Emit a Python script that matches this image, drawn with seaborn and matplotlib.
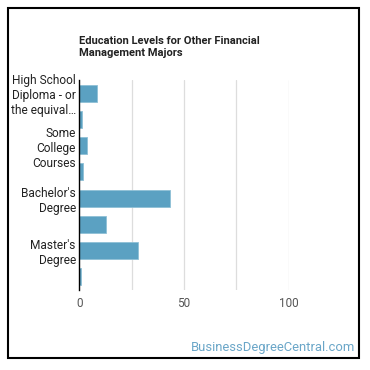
"""
Education levels chart, horizontal bars with a framed card look.
"""
import matplotlib

matplotlib.use("Agg")
import matplotlib.pyplot as plt
import pandas as pd
import seaborn as sns
from matplotlib.patches import Rectangle

# Data
categories = [
    "High School Diploma",
    "Post-Secondary Certificate",
    "Some College Courses",
    "Associate's Degree",
    "Bachelor's Degree",
    "Post-Baccalaureate Certificate",
    "Master's Degree",
    "Post-Master's Certificate",
]
percent = [8.6, 1.1, 3.8, 1.9, 43.5, 12.9, 28.2, 0.7]
# only every other label is drawn in the reference
tick_labels = [
    "High School\nDiploma - or\nthe equival\u2026",
    "",
    "Some\nCollege\nCourses",
    "",
    "Bachelor's\nDegree",
    "",
    "Master's\nDegree",
    "",
]
x_ticks = [0, 25, 50, 75, 100]
x_tick_labels = ["0", "", "50", "", "100"]

df = pd.DataFrame({"level": categories, "pct": percent})

sns.set_theme(style="white")
plt.rcParams["font.family"] = ["Roboto", "DejaVu Sans"]

fig = plt.figure(figsize=(3.7, 3.7), dpi=100)
ax = fig.add_axes([79.3 / 370, 80 / 370, 209.4 / 370, 210 / 370])

sns.barplot(
    data=df,
    x="pct",
    y="level",
    orient="h",
    color="#5ba1c2",
    saturation=1,
    width=0.65,
    edgecolor="#8fc0d6",
    linewidth=0.6,
    ax=ax,
)

ax.set_xlim(0, 100)
ax.set_xticks(x_ticks)
ax.set_xticklabels(x_tick_labels, fontsize=8.5, color="#555555")
ax.set_yticks(range(len(categories)))
ax.set_yticklabels(tick_labels, fontsize=8.6, color="#222222", linespacing=1.2)
ax.tick_params(axis="y", length=0, pad=2.5)
ax.tick_params(axis="x", length=0, pad=5)
ax.set_xlabel("")
ax.set_ylabel("")

ax.grid(axis="x", color="#dddddd", linewidth=0.9)
ax.set_axisbelow(True)
for side in ["top", "right", "bottom"]:
    ax.spines[side].set_visible(False)
ax.spines["left"].set_color("black")
ax.spines["left"].set_linewidth(1.0)

fig.text(
    79 / 370,
    1 - 36 / 370,
    "Education Levels for Other Financial\nManagement Majors",
    fontsize=8.0,
    fontweight="bold",
    color="#222222",
    ha="left",
    va="top",
    linespacing=1.3,
)

fig.text(
    355 / 370,
    1 - 348 / 370,
    "BusinessDegreeCentral.com",
    fontsize=9.4,
    color="#6aa6c8",
    ha="right",
    va="center",
)

# card border
fig.patches.append(
    Rectangle(
        (8 / 370, 12 / 370),
        351 / 370,
        350 / 370,
        transform=fig.transFigure,
        fill=False,
        edgecolor="black",
        linewidth=1.5,
    )
)

fig.savefig("out.png", dpi=100)
